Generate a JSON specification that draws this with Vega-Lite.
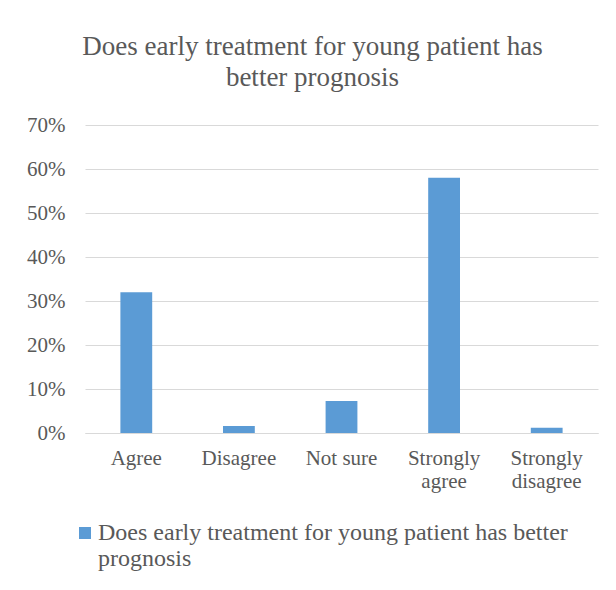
{
  "$schema": "https://vega.github.io/schema/vega-lite/v6.json",
  "autosize": "none",
  "width": 513,
  "height": 308,
  "padding": {"left": 85, "top": 125, "right": 18, "bottom": 157},
  "background": "white",
  "title": {
    "text": ["Does early treatment for young patient has", "better prognosis"],
    "font": "Liberation Serif",
    "fontSize": 27,
    "fontWeight": "normal",
    "color": "#595959",
    "lineHeight": 31,
    "anchor": "middle",
    "dx": -29,
    "offset": 22
  },
  "data": {
    "values": [
      {"response": "Agree", "value": 0.32, "series": "Does early treatment for young patient has better prognosis"},
      {"response": "Disagree", "value": 0.016, "series": "Does early treatment for young patient has better prognosis"},
      {"response": "Not sure", "value": 0.073, "series": "Does early treatment for young patient has better prognosis"},
      {"response": "Strongly agree", "value": 0.58, "series": "Does early treatment for young patient has better prognosis"},
      {"response": "Strongly disagree", "value": 0.012, "series": "Does early treatment for young patient has better prognosis"}
    ]
  },
  "mark": {"type": "bar"},
  "encoding": {
    "x": {
      "field": "response",
      "type": "nominal",
      "sort": null,
      "scale": {"paddingInner": 0.69, "paddingOuter": 0.345},
      "axis": {
        "title": null,
        "labelAngle": 0,
        "labelFont": "Liberation Serif",
        "labelFontSize": 21,
        "labelColor": "#595959",
        "labelPadding": 14,
        "labelLineHeight": 23,
        "labelBaseline": "top",
        "ticks": false,
        "domainColor": "#d9d9d9",
        "labelExpr": "datum.label == 'Strongly agree' ? ['Strongly','agree'] : datum.label == 'Strongly disagree' ? ['Strongly','disagree'] : datum.label"
      }
    },
    "y": {
      "field": "value",
      "type": "quantitative",
      "scale": {"domain": [0, 0.7]},
      "axis": {
        "title": null,
        "format": ".0%",
        "values": [0, 0.1, 0.2, 0.3, 0.4, 0.5, 0.6, 0.7],
        "labelOverlap": false,
        "labelFont": "Liberation Serif",
        "labelFontSize": 21,
        "labelColor": "#595959",
        "labelPadding": 20,
        "ticks": false,
        "domain": false,
        "gridColor": "#d9d9d9",
        "gridWidth": 1
      }
    },
    "color": {
      "field": "series",
      "type": "nominal",
      "scale": {"range": ["#5B9BD5"]},
      "legend": {
        "title": null,
        "orient": "none",
        "legendX": -12,
        "legendY": 396,
        "symbolType": "square",
        "symbolSize": 144,
        "symbolStrokeWidth": 0,
        "labelFont": "Liberation Serif",
        "labelFontSize": 24,
        "labelColor": "#595959",
        "labelLineHeight": 29,
        "labelLimit": 600,
        "labelOffset": 1,
        "labelExpr": "['Does early treatment for young patient has better', 'prognosis']"
      }
    }
  },
  "config": {
    "view": {"stroke": null}
  }
}
